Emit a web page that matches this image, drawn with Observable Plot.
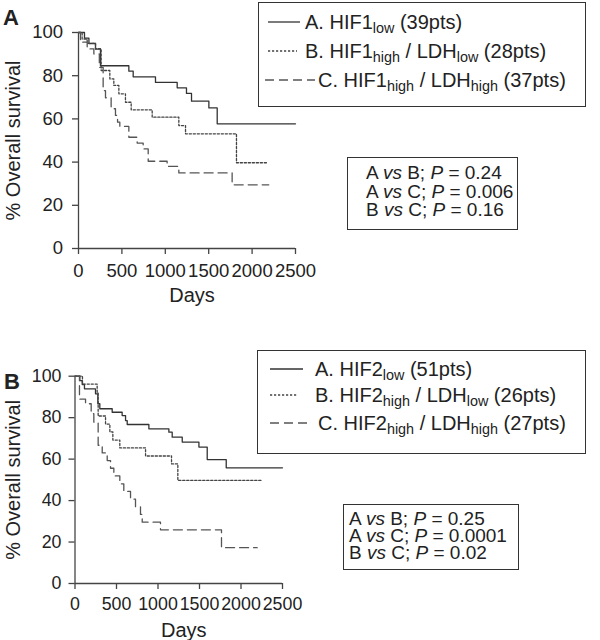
<!DOCTYPE html>
<html><head><meta charset="utf-8">
<script src="https://cdn.jsdelivr.net/npm/d3@7"></script>
<script src="https://cdn.jsdelivr.net/npm/@observablehq/plot@0.6"></script>
<style>
body{margin:0;background:#fff}
#wrap{position:relative;width:600px;height:640px;font-family:"Liberation Sans",Arial,Helvetica,sans-serif;color:#222;overflow:hidden}
.panel{position:absolute;left:0}
.box{position:absolute;border:1.5px solid #333;box-sizing:border-box;background:#fff}
.leg{position:absolute;font-size:20px;white-space:nowrap;line-height:20px}
.leg sub{font-size:0.72em;vertical-align:-0.3em;line-height:0}
.pv{position:absolute;font-size:19px;white-space:nowrap}
.tag{position:absolute;font-weight:bold;font-size:22px;line-height:22px}
svg.sample{position:absolute;overflow:visible}
</style></head><body>
<div id="wrap">
  <div id="pa" class="panel" style="top:0"></div>
  <div id="pb" class="panel" style="top:320px"></div>
  <div class="tag" style="left:3px;top:7px">A</div>
  <div class="tag" style="left:4px;top:371px">B</div>
</div>
<script>
// ---------- data ----------
const xTicks = [0, 500, 1000, 1500, 2000, 2500];
const yTicks = [0, 20, 40, 60, 80, 100];

// Panel A (HIF1)
const hif1A_days = [0, 69, 120, 196, 253, 580, 630, 887, 1137, 1244, 1302, 1502, 1598, 2500];
const hif1A_surv = [100, 97.4, 94.9, 92.3, 84.6, 82.1, 79.5, 76.9, 74.4, 71.8, 68.2, 65.1, 57.7, 57.7];
const hif1B_days = [0, 42, 100, 196, 261, 361, 407, 465, 541, 607, 849, 1156, 1233, 1820, 2173];
const hif1B_surv = [100, 97, 95, 92.5, 82.4, 78.5, 75.5, 71.6, 67.7, 64.2, 60.8, 56.9, 53.1, 39.7, 39.7];
const hif1C_days = [0, 23, 100, 177, 240, 284, 311, 376, 426, 450, 476, 580, 676, 745, 803, 1021, 1156, 1770, 2192];
const hif1C_surv = [100, 95.5, 92.4, 90.1, 83.9, 73.1, 69.8, 64.7, 61.6, 58.5, 56.5, 51.5, 48.8, 46.1, 40.4, 38.0, 35.0, 29.5, 29.5];

// Panel B (HIF2)
const hif2A_days = [0, 58, 87, 114, 247, 275, 299, 448, 568, 609, 629, 890, 1131, 1171, 1292, 1493, 1593, 1822, 2500];
const hif2A_surv = [100, 97.9, 96.0, 93.9, 91.5, 86.7, 84.3, 82.6, 81.0, 78.6, 76.7, 74.6, 73.0, 70.6, 68.2, 65.8, 59.8, 55.8, 55.8];
const hif2B_days = [0, 90, 267, 279, 368, 420, 456, 540, 850, 1163, 1239, 2255];
const hif2B_surv = [100, 96.2, 92.3, 80.8, 76.9, 73.1, 69.2, 65.4, 61.5, 57.7, 49.7, 49.7];
const hif2C_days = [0, 54, 127, 195, 227, 279, 328, 388, 428, 468, 540, 588, 669, 729, 789, 810, 1030, 1765, 2195];
const hif2C_surv = [100, 88.9, 86.7, 81.9, 77.8, 66.7, 63.0, 59.3, 55.6, 51.9, 48.1, 44.4, 40.7, 37.0, 33.3, 29.6, 25.9, 17.3, 17.3];

const legendA = ["A. HIF1<sub>low</sub> (39pts)", "B. HIF1<sub>high</sub> / LDH<sub>low</sub> (28pts)", "C. HIF1<sub>high</sub> / LDH<sub>high</sub> (37pts)"];
const legendB = ["A. HIF2<sub>low</sub> (51pts)", "B. HIF2<sub>high</sub> / LDH<sub>low</sub> (26pts)", "C. HIF2<sub>high</sub> / LDH<sub>high</sub> (27pts)"];
const pvalsA = ["A <i>vs</i> B; <i>P</i> = 0.24", "A <i>vs</i> C; <i>P</i> = 0.006", "B <i>vs</i> C; <i>P</i> = 0.16"];
const pvalsB = ["A <i>vs</i> B; <i>P</i> = 0.25", "A <i>vs</i> C; <i>P</i> = 0.0001", "B <i>vs</i> C; <i>P</i> = 0.02"];

// ---------- styles ----------
const dashes = [null, "2.2,1.8", "9,5"];
const strokes = ["#333", "#444", "#555"];
const axisColor = "#444";

function rows(days, surv) { return days.map((d, i) => ({d, v: surv[i]})); }

function panel(cfg) {
  const series = cfg.series;
  return Plot.plot({
    width: 600, height: 320,
    marginLeft: cfg.mL, marginRight: cfg.mR, marginTop: cfg.mT, marginBottom: cfg.mB,
    style: {background: "transparent", color: "#222", fontFamily: '"Liberation Sans", Arial, sans-serif', overflow: "visible"},
    x: {domain: [0, 2500]},
    y: {domain: [0, 100]},
    marks: [
      Plot.ruleY([0], {stroke: axisColor, strokeWidth: 1.3}),
      Plot.ruleX([0], {stroke: axisColor, strokeWidth: 1.3}),
      Plot.axisX({ticks: xTicks, tickSize: 6, tickPadding: cfg.padX, fontSize: cfg.fs, tickFormat: d => String(d), label: null, stroke: axisColor, strokeWidth: 1.3}),
      Plot.axisY({ticks: yTicks, tickSize: 6, tickPadding: cfg.padY, fontSize: cfg.fs, tickFormat: d => String(d), label: null, stroke: axisColor, strokeWidth: 1.3}),
      ...series.map((s, i) => Plot.line(rows(s[0], s[1]), {x: "d", y: "v", curve: "step-after", stroke: strokes[i], strokeWidth: 1.3, strokeDasharray: dashes[i]})),
      Plot.text(["% Overall survival"], {frameAnchor: "left", dx: cfg.yLabDx, rotate: -90, fontSize: 20, textAnchor: "middle", lineAnchor: "middle"}),
      Plot.text(["Days"], {frameAnchor: "bottom", dy: cfg.daysDy, dx: cfg.daysDx, fontSize: 20, textAnchor: "middle", lineAnchor: "middle"})
    ]
  });
}

document.getElementById("pa").append(panel({
  series: [[hif1A_days, hif1A_surv], [hif1B_days, hif1B_surv], [hif1C_days, hif1C_surv]],
  mL: 78, mR: 305, mT: 32, mB: 72, padX: 9, padY: 9.5, fs: 18.5, yLabDx: -65, daysDy: 47, daysDx: 5
}));
document.getElementById("pb").append(panel({
  series: [[hif2A_days, hif2A_surv], [hif2B_days, hif2B_surv], [hif2C_days, hif2C_surv]],
  mL: 74.5, mR: 318, mT: 55.7, mB: 57, padX: 8, padY: 7.5, fs: 17.8, yLabDx: -61.5, daysDy: 47, daysDx: 5
}));

// ---------- legends and p-value boxes ----------
const wrap = document.getElementById("wrap");
function addBox(l, t, w, h) {
  const b = document.createElement("div");
  b.className = "box";
  Object.assign(b.style, {left: l + "px", top: t + "px", width: w + "px", height: h + "px"});
  wrap.append(b);
}
function addSample(x1, x2, cy, i) {
  const ns = "http://www.w3.org/2000/svg";
  const s = document.createElementNS(ns, "svg");
  s.setAttribute("class", "sample");
  s.setAttribute("width", x2 - x1); s.setAttribute("height", 4);
  s.style.left = x1 + "px"; s.style.top = (cy - 2) + "px";
  const ln = document.createElementNS(ns, "line");
  ln.setAttribute("x1", 0); ln.setAttribute("x2", x2 - x1); ln.setAttribute("y1", 2); ln.setAttribute("y2", 2);
  ln.setAttribute("stroke", strokes[i]); ln.setAttribute("stroke-width", 1.3);
  if (dashes[i]) ln.setAttribute("stroke-dasharray", dashes[i]);
  s.append(ln);
  wrap.append(s);
}
function addLegend(labels, ys, samples, textX) {
  labels.forEach((lab, i) => {
    addSample(samples[i][0], samples[i][1], ys[i], i);
    const d = document.createElement("div");
    d.className = "leg";
    d.innerHTML = lab;
    d.style.left = textX[i] + "px";
    d.style.top = (ys[i] - 10) + "px";
    wrap.append(d);
  });
}
function addP(lines, l, t, lh) {
  const d = document.createElement("div");
  d.className = "pv";
  d.style.left = l + "px"; d.style.top = t + "px"; d.style.lineHeight = lh + "px";
  d.innerHTML = lines.join("<br>");
  wrap.append(d);
}

addBox(258, 2, 328, 105);
addLegend(legendA, [22, 51, 80], [[268, 300], [268, 297], [265, 315]], [305, 305, 318]);
addBox(347, 157, 171, 73);
addP(pvalsA, 366, 164, 18.5);

addBox(257, 350, 329, 104);
addLegend(legendB, [369, 395, 423], [[270, 303], [270, 298], [270, 307]], [315, 315, 318]);
addBox(343, 504, 176, 66);
addP(pvalsB, 349, 510, 17);
</script>
</body></html>
